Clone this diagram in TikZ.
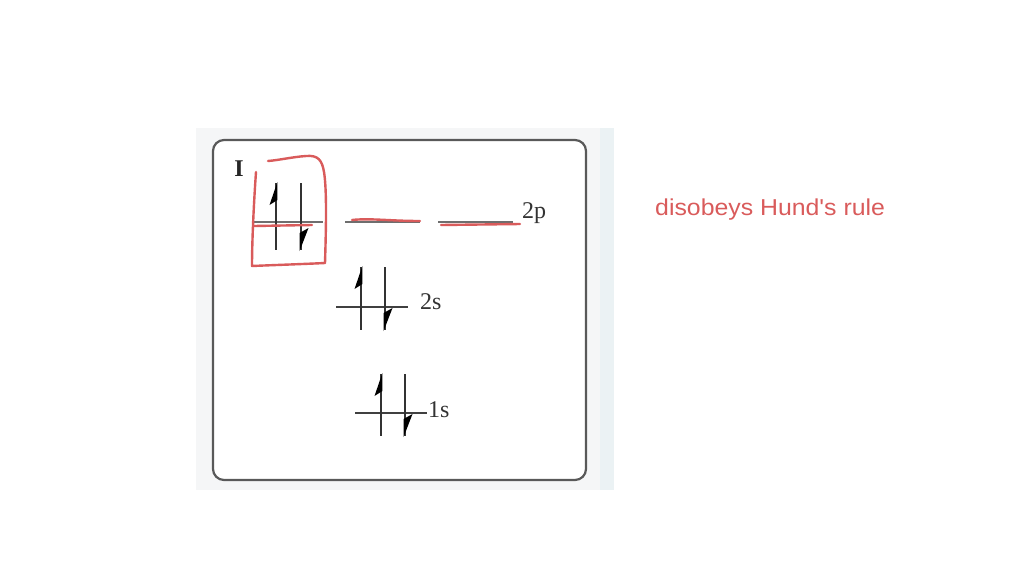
\documentclass[tikz,border=0pt]{standalone}
\usepackage{fontspec}
\setmainfont{Liberation Serif}
\newfontfamily\handfont{Liberation Sans}
\definecolor{pen}{HTML}{D95B5B}
\definecolor{panel}{HTML}{F5F6F7}
\definecolor{strip}{HTML}{EBF2F4}
\definecolor{orbline}{HTML}{6E6E6E}
\newcommand\orbup[3]{% x, ytop, ybottom
  \draw[shaft] (#1,#2) -- (#1,#3);
  \fill (#1+1.4,#2-1) -- (#1-6.5,#2+22) -- (#1+1.4,#2+17) -- cycle;}
\newcommand\orbdown[3]{% x, ytop, ybottom
  \draw[shaft] (#1,#2) -- (#1,#3);
  \fill (#1-1.4,#3+1) -- (#1+7.5,#3-22) -- (#1-1.4,#3-17) -- cycle;}
\begin{document}
\begin{tikzpicture}[x=1pt,y=-1pt,
  shaft/.style={line width=2.6pt,draw=black!80},
  level/.style={line width=2.6pt,draw=orbline},
  redpen/.style={line width=2.4pt,draw=pen,line cap=round,line join=round},
  lbl/.style={font=\fontsize{24}{24}\selectfont,text=black!80,inner sep=0pt,anchor=west}]
\path[use as bounding box] (0,0) rectangle (1024,576);
% panel
\fill[panel] (196,128) rectangle (614,490);
\fill[strip] (600,128) rectangle (614,490);
\draw[line width=2.2pt,draw=black!65,fill=white,rounded corners=11pt] (213,140) rectangle (586,480);
\node[font=\bfseries\fontsize{24}{24}\selectfont,inner sep=0pt,text=black!85] (roman) at (239,169) {I};
% 2p
\draw[level] (253,222) -- (323,222);
\draw[level] (345,222) -- (420,222);
\draw[level] (438,222) -- (513,222);
\orbup{276}{183}{250}
\orbdown{301}{183}{250}
\node[lbl] (p2) at (522,213) {2p};
% 2s
\draw[level,draw=black!75] (336,307) -- (408,307);
\orbup{361}{267}{330}
\orbdown{385}{267}{330}
\node[lbl] (s2) at (420,302) {2s};
% 1s
\draw[level,draw=black!75] (355,413) -- (427,413);
\orbup{381}{374}{436}
\orbdown{405}{374}{436}
\node[lbl] (s1) at (428,410) {1s};
% red annotations
\draw[redpen] (256,172) .. controls (254,200) and (252,240) .. (252,266)
  .. controls (275,265) and (305,264) .. (325,263)
  .. controls (326,230) and (327,190) .. (324,172)
  .. controls (322,160) and (318,155) .. (306,156)
  .. controls (292,157) and (280,160) .. (268,161);
\draw[redpen] (254,226) -- (312,225);
\draw[redpen] (352,220) .. controls (370,218) and (390,221) .. (420,221);
\draw[redpen] (441,225) -- (520,224);
\node[font=\handfont\fontsize{23}{23}\selectfont,text=pen,anchor=west,inner sep=0pt,xscale=1.08] (note) at (655,210) {disobeys Hund's rule};
\end{tikzpicture}
\end{document}
